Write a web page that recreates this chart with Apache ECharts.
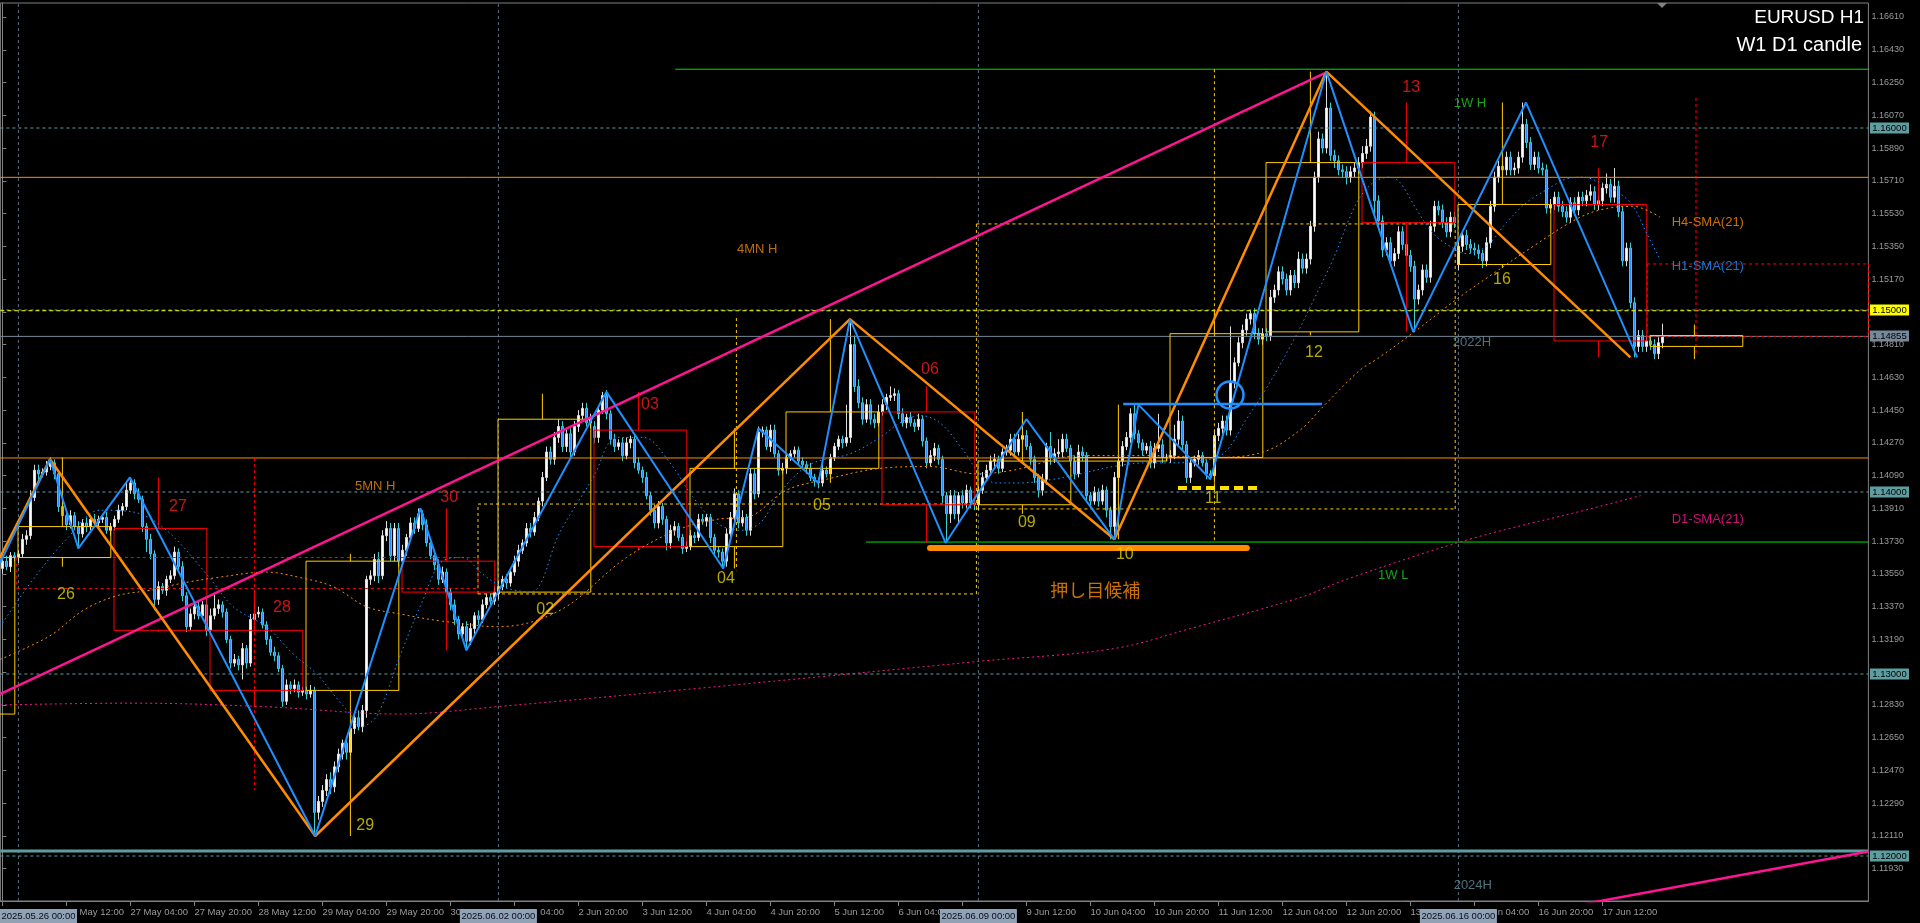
<!DOCTYPE html>
<html><head><meta charset="utf-8">
<script src="https://cdn.jsdelivr.net/npm/echarts/dist/echarts.min.js"></script>
<style>html,body{margin:0;padding:0;background:#000;overflow:hidden}#c{width:1920px;height:923px}</style>
</head><body><div id="c"></div>
<script>
// ---------------- DATA ----------------
const TICK_LABELS = ["23 May 20:00","26 May 12:00","27 May 04:00","27 May 20:00","28 May 12:00","29 May 04:00","29 May 20:00","30 May 12:00","2 Jun 04:00","2 Jun 20:00","3 Jun 12:00","4 Jun 04:00","4 Jun 20:00","5 Jun 12:00","6 Jun 04:00","6 Jun 20:00","9 Jun 12:00","10 Jun 04:00","10 Jun 20:00","11 Jun 12:00","12 Jun 04:00","12 Jun 20:00","13 Jun 12:00","16 Jun 04:00","16 Jun 20:00","17 Jun 12:00"];
const Y_TICKS = [1.11930,1.12110,1.12290,1.12470,1.12650,1.12830,1.13010,1.13190,1.13370,1.13550,1.13730,1.13910,1.14090,1.14270,1.14450,1.14630,1.14810,1.14990,1.15170,1.15350,1.15530,1.15710,1.15890,1.16070,1.16250,1.16430,1.16610];
const SEP_IDX = [4,124,244,364];
const SEP_LABELS = ["2025.05.26 00:00","2025.06.02 00:00","2025.06.09 00:00","2025.06.16 00:00"];

// hourly closes (index 0 = 23 May 20:00)
const CLOSE = [
1.1362,1.1359,1.1365,1.1364,
/*26May*/1.1366,1.1374,1.1376,1.1397,1.1412,1.1410,1.1411,1.1414,1.1416,1.1410,1.1392,1.1387,1.1382,1.1387,1.1381,1.1377,1.1383,1.1381,1.1385,1.1383,1.1385,1.1386,1.1379,1.1381,
/*27May*/1.1385,1.1390,1.1392,1.1401,1.1405,1.1399,1.1396,1.1381,1.1374,1.1366,1.1341,1.1348,1.1346,1.1352,1.1354,1.1367,1.1359,1.1343,1.1326,1.1333,1.1337,1.1332,1.1338,1.1324,
/*28May*/1.1332,1.1336,1.1338,1.1334,1.1319,1.1306,1.1308,1.1305,1.1314,1.1306,1.1330,1.1333,1.1334,1.1327,1.1319,1.1312,1.1310,1.1303,1.1285,1.1294,1.1292,1.1294,1.1290,1.1291,
/*29May*/1.1289,1.1291,1.1224,1.1230,1.1236,1.1242,1.1238,1.1249,1.1256,1.1262,1.1257,1.1270,1.1276,1.1271,1.1280,1.1352,1.1354,1.1363,1.1354,1.1376,1.1380,1.1365,1.1380,1.1362,
/*30May*/1.1368,1.1375,1.1383,1.1380,1.1388,1.1382,1.1372,1.1365,1.1360,1.1352,1.1356,1.1345,1.1338,1.1330,1.1322,1.1326,1.1318,1.1325,1.1332,1.1330,1.1338,1.1342,1.1340,1.1345,
/*02Jun*/1.1348,1.1352,1.1350,1.1356,1.1362,1.1368,1.1372,1.1380,1.1378,1.1386,1.1395,1.1408,1.1422,1.1418,1.1430,1.1436,1.1425,1.1432,1.1422,1.1436,1.1442,1.1446,1.1438,1.1440,
/*03Jun*/1.1430,1.1445,1.1453,1.1443,1.1429,1.1425,1.1427,1.1420,1.1427,1.1429,1.1416,1.1412,1.1408,1.1398,1.1390,1.1383,1.1392,1.1385,1.1372,1.1379,1.1381,1.1375,1.1369,1.1370,
/*04Jun*/1.1376,1.1375,1.1385,1.1384,1.1386,1.1375,1.1368,1.1367,1.1362,1.1377,1.1386,1.1399,1.1383,1.1386,1.1379,1.1410,1.1399,1.1433,1.1434,1.1425,1.1434,1.1421,1.1412,1.1413,
/*05Jun*/1.1419,1.1421,1.1423,1.1417,1.1415,1.1413,1.1408,1.1406,1.1405,1.1412,1.1410,1.1419,1.1425,1.1429,1.1427,1.1430,1.1481,1.1458,1.1449,1.1440,1.1448,1.1440,1.1438,1.1444,
/*06Jun*/1.1448,1.1452,1.1453,1.1454,1.1443,1.1438,1.1441,1.1438,1.1436,1.1440,1.1428,1.1416,1.1420,1.1424,1.1418,1.1398,1.1388,1.1398,1.1388,1.1398,1.1394,1.1401,1.1394,1.1393,
/*09Jun*/1.1401,1.1408,1.1412,1.1417,1.1418,1.1413,1.1422,1.1423,1.1429,1.1422,1.1429,1.1431,1.1425,1.1418,1.1408,1.1401,1.1407,1.1425,1.1419,1.1421,1.1422,1.1429,1.1424,1.1417,
/*10Jun*/1.1410,1.1422,1.1420,1.1398,1.1395,1.1400,1.1395,1.1401,1.1390,1.1381,1.1408,1.1417,1.1425,1.1430,1.1443,1.1432,1.1427,1.1423,1.1425,1.1416,1.1424,1.1426,1.1419,1.1419,
/*11Jun*/1.1420,1.1429,1.1439,1.1426,1.1408,1.1416,1.1418,1.1420,1.1416,1.1410,1.1409,1.1431,1.1435,1.1439,1.1434,1.1460,1.1471,1.1482,1.1489,1.1495,1.1498,1.1487,1.1484,1.1487,
/*12Jun*/1.1486,1.1507,1.1511,1.1521,1.1517,1.1511,1.1519,1.1515,1.1528,1.1523,1.1528,1.1546,1.1573,1.1594,1.1589,1.1611,1.1585,1.1582,1.1577,1.1576,1.1573,1.1576,1.1578,1.1581,
/*13Jun*/1.1586,1.1590,1.1606,1.1560,1.1549,1.1533,1.1537,1.1527,1.1531,1.1543,1.1536,1.1530,1.1524,1.1506,1.1511,1.1522,1.1518,1.1546,1.1557,1.1555,1.1548,1.1543,1.1551,1.1548,
/*16Jun*/1.1535,1.1541,1.1536,1.1534,1.1533,1.1531,1.1527,1.1537,1.1557,1.1573,1.1579,1.1577,1.1584,1.1577,1.1578,1.1584,1.1602,1.1592,1.1580,1.1584,1.1578,1.1577,1.1556,1.1558,
/*17Jun*/1.1562,1.1557,1.1554,1.1551,1.1559,1.1555,1.1562,1.1560,1.1563,1.1565,1.1558,1.1560,1.1567,1.1569,1.1562,1.1568,1.1554,1.1527,1.1534,1.1504,1.1480,1.1486,1.1480,1.1483,
/*18Jun*/1.1481,1.1476,1.1482,1.14855];
// upper / lower wick lengths in pips
const WICK_UP = [
2,3,2,2,
2,3,3,4,3,3,2,3,3,2,2,3,2,3,2,3,2,3,2,3,2,2,3,2,
2,3,2,4,3,2,3,2,2,3,2,3,2,2,3,3,2,3,2,3,2,3,2,3,
4,8,3,2,2,2,3,2,3,2,3,7,3,2,2,2,3,2,2,3,2,3,2,2,
2,3,2,3,3,3,4,3,3,2,4,3,3,4,3,2,3,3,4,3,4,3,3,3,
3,2,3,3,3,2,3,2,2,3,3,2,2,3,2,2,3,3,2,3,3,2,2,3,
3,2,3,2,3,3,2,3,3,3,2,3,3,3,3,4,3,3,3,3,3,3,3,3,
3,2,2,3,2,3,2,3,3,2,2,3,2,3,2,3,3,2,2,3,3,2,2,3,
3,2,3,3,2,2,2,2,2,3,3,3,2,4,2,3,3,3,2,2,3,3,2,3,
2,2,2,2,2,2,3,2,2,3,2,2,2,2,2,18,14,5,4,3,3,3,3,4,
3,2,5,3,2,3,2,3,2,3,2,2,3,3,2,2,2,3,3,2,3,3,2,2,
2,3,3,3,3,2,2,3,3,3,3,9,3,2,2,2,3,2,8,3,7,3,3,2,
3,4,3,2,2,3,2,3,2,2,3,3,3,3,3,5,2,2,2,3,3,17,3,2,
3,8,6,3,2,3,2,3,2,2,2,3,3,3,3,31,3,3,3,3,2,3,3,3,
3,4,3,3,3,3,3,3,4,3,3,3,3,4,3,20,3,3,3,3,3,3,3,3,
4,4,3,3,3,3,3,3,3,3,3,3,3,3,3,3,3,3,3,3,3,3,3,3,
3,3,3,3,3,3,2,3,3,3,3,3,3,3,3,3,12,3,3,3,3,3,3,3,
3,3,3,3,3,3,3,3,3,4,3,3,3,6,3,10,3,3,3,3,3,3,3,3,
3,3,3,7];
const WICK_DN = [
3,2,3,2,
3,2,3,2,2,3,2,2,2,3,3,2,3,2,2,8,2,3,2,2,3,2,2,3,
2,2,3,2,2,3,2,3,7,3,6,3,2,3,2,2,3,3,3,2,3,2,2,3,
2,2,3,3,2,3,2,3,8,3,2,3,2,2,3,2,3,2,3,2,3,2,3,2,
3,2,13,4,3,3,4,3,3,3,4,2,3,2,3,4,3,3,4,2,3,3,3,3,
2,3,2,3,2,3,2,2,3,3,2,3,3,3,3,3,5,2,3,3,2,2,3,2,
3,2,3,2,2,3,2,2,3,2,2,3,2,3,3,3,3,3,3,2,3,2,2,3,
3,3,2,3,3,3,2,3,2,3,3,2,3,2,3,3,3,3,4,3,3,2,3,2,
2,3,2,2,3,3,3,3,4,3,2,3,3,2,3,3,3,2,3,2,3,2,3,2,
3,2,2,2,2,3,2,3,3,2,2,2,2,2,3,2,3,3,3,3,2,3,3,2,
2,3,2,3,3,2,3,2,3,2,3,3,2,3,3,4,16,5,3,5,3,3,3,3,
3,2,2,3,3,3,2,2,3,3,2,2,2,3,3,4,3,3,4,3,2,3,2,3,
3,2,3,3,3,2,3,2,4,7,7,2,3,2,3,3,3,3,2,3,3,2,3,2,
3,2,3,3,3,3,2,3,2,3,2,2,3,3,3,3,3,2,3,3,3,3,3,3,
3,3,3,3,3,3,3,3,3,3,3,3,3,3,3,3,3,4,3,3,4,3,3,3,
3,3,3,8,3,4,3,3,3,3,3,3,3,18,3,3,3,3,3,3,3,3,3,3,
3,3,3,3,3,3,4,3,3,3,3,3,3,3,3,3,3,3,3,3,3,3,3,3,
3,3,3,3,3,3,3,3,3,3,3,3,3,3,3,3,3,3,3,3,6,3,3,3,
3,3,3,3];
const GAP_IDX = [0,124,148,364];
const GAP_OPEN = [1.1358,1.1344,1.1436,1.1525];

// daily candles (W1 D1 candle indicator)
const DAY_START = [-20,4,28,52,76,100,124,148,172,196,220,244,268,292,316,340,364,388,412];
const DAY_OPEN  = [1.1278,1.1364,1.1380,1.1324,1.1291,1.1362,1.1345,1.1434,1.1370,1.1413,1.1444,1.1393,1.1417,1.1419,1.1488,1.1581,1.1525,1.1558,1.1480];
const DAY_CLOSE = [1.1364,1.1381,1.1324,1.1291,1.1362,1.1345,1.1440,1.1370,1.1413,1.1444,1.1393,1.1417,1.1419,1.1487,1.1581,1.1548,1.1558,1.1483,1.1486];
const DAY_HIGH  = [1.1370,1.1419,1.1408,1.1345,1.1366,1.1391,1.1454,1.1455,1.1435,1.1495,1.1458,1.1444,1.1448,1.1500,1.1631,1.1614,1.1614,1.1578,1.1492];
const DAY_LOW   = [1.1270,1.1359,1.1323,1.1282,1.1211,1.1313,1.1345,1.1368,1.1358,1.1405,1.1372,1.1388,1.1374,1.1405,1.1486,1.1488,1.1523,1.1474,1.1473];
// weekly candles (dashed)
const WEEK_X0 = [3.6,118.9,243.5,411.2];
const WEEK_X1 = [118.9,243.5,363.2,466.5];
const WEEK_MID = [63,183.5,303,423.4];
const WEEK_OPEN = [1.1364,1.1344,1.13907,1.15253];
const WEEK_CLOSE = [1.1347,1.13934,1.15473,1.14855];
const WEEK_HIGH = [1.14187,1.14956,1.16323,1.16165];
const WEEK_LOW = [1.12363,1.1357,1.13725,1.14753];

// moving averages: [bar index, price]
const SMA_H1 = [[-0.6,1.1326],[7.7,1.1352],[16,1.1374],[24.4,1.1390],[32.7,1.1389],[41,1.1379],[51,1.1355],[57.7,1.1337],[66,1.1326],[72.7,1.1311],[78.6,1.1300],[82.7,1.1289],[86.9,1.1278],[89.4,1.1271],[93.6,1.1277],[99.4,1.1310],[105,1.1340],[110,1.1362],[115,1.1364],[120,1.1355],[125,1.1348],[132,1.1345],[139.4,1.1378],[147.7,1.1408],[153.6,1.1430],[160.2,1.1430],[166.9,1.1416],[172.7,1.1397],[178.6,1.1383],[184.4,1.1379],[189.4,1.1383],[193.6,1.1397],[197.7,1.1408],[202.7,1.1416],[211.9,1.1421],[219.4,1.1430],[224.4,1.1438],[229.4,1.1442],[234.4,1.1438],[240.2,1.1423],[244.4,1.1410],[248.6,1.1405],[254.4,1.1405],[262.7,1.1407],[269.4,1.1410],[277.7,1.1414],[286,1.1416],[291.9,1.1416],[298.6,1.1417],[305.2,1.1421],[311,1.1440],[316,1.1457],[322.7,1.1483],[327.7,1.1505],[332.7,1.1528],[338.6,1.1559],[342.7,1.1570],[346.9,1.1573],[349.4,1.1570],[353.6,1.1555],[357.7,1.1542],[361.9,1.1535],[366,1.1531],[371,1.1535],[376,1.1548],[381,1.1559],[386,1.1566],[391,1.1572],[395.2,1.1573],[399.4,1.1570],[404.4,1.1564],[407.7,1.1557],[411.1,1.1542],[414.4,1.1528]];
const SMA_H4 = [[-0.6,1.1308],[11.9,1.1321],[20.2,1.1335],[28.6,1.1343],[36.9,1.1346],[45.2,1.1350],[53.6,1.1353],[66,1.1356],[74.4,1.1353],[82.7,1.1348],[91,1.1337],[99.4,1.1333],[110,1.1329],[124,1.1326],[139.4,1.1335],[156,1.1364],[168.6,1.1379],[178.6,1.1385],[186,1.1386],[196,1.1401],[206,1.1407],[219.4,1.1413],[231.9,1.1414],[243.6,1.1410],[252.7,1.1412],[269.4,1.1420],[286,1.1420],[302.7,1.1419],[315.2,1.1422],[324.4,1.1434],[330.2,1.1447],[339.4,1.1467],[343.6,1.1473],[353.6,1.1489],[363.6,1.1506],[372.7,1.1520],[382.7,1.1535],[392.7,1.1549],[399.4,1.1555],[407.7,1.1557],[411.9,1.1554],[414.4,1.1551]];
const SMA_D1 = [[-0.6,1.1283],[32.7,1.1284],[66,1.1282],[99.4,1.1278],[123.4,1.1282],[183,1.1294],[244.4,1.1307],[278,1.1314],[297,1.1325],[324.4,1.1342],[336,1.1352],[366.7,1.1374],[397.4,1.1391],[409.6,1.1398]];

// zigzags and trend lines: [bar index, price]
const ZZ_BLUE = [[-0.6,1.1361],[11.9,1.1418],[19,1.1369],[31.9,1.1408],[78.2,1.1211],[104.5,1.1391],[116,1.1313],[151,1.1455],[180.2,1.1358],[189,1.1435],[204,1.1405],[211.9,1.1495],[235.8,1.1372],[256,1.1440],[278,1.1374],[284,1.1448],[302,1.1407],[331,1.1631],[352.7,1.1488],[380.9,1.1614],[408.7,1.1474]];
const ZZ_ORANGE = [[-0.6,1.1364],[11.9,1.1418],[78.2,1.1211],[211.9,1.1495],[278,1.1374],[331,1.1631],[407,1.1474]];
const TREND_1 = [[-0.6,1.12890],[330.6,1.16302]];
const TREND_2 = [[380,1.11674],[466.5,1.12025]];

// horizontal levels
const ROUND_LEVELS = [1.16,1.15,1.14,1.13,1.12];
const ORANGE_LEVELS = [1.15729,1.14187];
const GREEN_LEVELS = [1.16323,1.13725];
const GREEN_FROM = [168.2,215.9];
const BID = 1.14855;
const LEVEL_2024 = 1.12027;
const BLUE_LEVEL = [280.2,329.9,1.14484];
const SUPPORT_BAR = [231.9,311.1,1.13692];
const YELLOW_BAR = [293.9,313.9,1.14022];
const CIRCLE_AT = [306.9,1.14533];
const MARKERS = [1.16,1.15,1.14855,1.14,1.13,1.12];

// text annotations: [text, bar index, price]
const DAY_LABELS_BULL = [["26",15.9,1.13434],["29",90.7,1.12165],["02",135.7,1.13352],["04",180.9,1.13522],["05",204.9,1.13923],["09",256.1,1.13830],["10",280.6,1.13654],["11",302.7,1.13962],["12",327.9,1.14764],["16",374.9,1.15165]];
const DAY_LABELS_BEAR = [["27",43.9,1.13918],["28",69.9,1.13363],["30",111.7,1.13967],["03",161.9,1.14478],["06",231.9,1.14670],["13",352.2,1.16220],["17",399.2,1.15918]];
const NOTES_ORANGE = [["5MN H",93.2,1.14028],["4MN H",188.7,1.15335]];
const NOTES_GREEN = [["1W H",366.9,1.16137],["1W L",347.7,1.13539]];
const NOTES_GRAY = [["2022H",367.4,1.14824],["2024H",367.6,1.11841]];
const SMA_LABELS = [["H4-SMA(21)",417.2,1.15484],["H1-SMA(21)",417.2,1.15242],["D1-SMA(21)",417.2,1.13852]];
const NOTE_JP = ["押し目候補",273.2,1.13462];

// ---------------- CHART ----------------
const N_SLOTS = 467, XL = -0.5, XR = 466.5;
const Y_MAX = 1.166869, Y_MIN = 1.117528;
const FONT = 'Liberation Sans, Arial, sans-serif';
const YEL = '#ffcc00', RED = '#ff0000';
const MARKER_BG = ['#5f9ea0', '#ffff00', '#778899', '#5f9ea0', '#5f9ea0', '#5f9ea0'];

const cats = []; for (let i = 0; i < N_SLOTS; i++) cats.push(String(i));
const candles = [];
let prev = GAP_OPEN[0];
for (let i = 0; i < CLOSE.length; i++) {
  const g = GAP_IDX.indexOf(i);
  const o = g >= 0 ? GAP_OPEN[g] : prev;
  const c = CLOSE[i];
  candles.push([o, c, Math.min(o, c) - WICK_DN[i] * 0.0001, Math.max(o, c) + WICK_UP[i] * 0.0001]);
  prev = c;
}

function segSeries(data, color, width, dash, z, cap) {
  return {
    type: 'custom', xAxisIndex: 1, yAxisIndex: 0, silent: true, z: z || 3, clip: true, animation: false,
    encode: { x: [0, 2], y: [1, 3] }, data: data,
    renderItem: function (p, api) {
      const a = api.coord([api.value(0), api.value(1)]), b = api.coord([api.value(2), api.value(3)]);
      return { type: 'line', shape: { x1: a[0], y1: a[1], x2: b[0], y2: b[1] },
        style: { stroke: color, lineWidth: width, lineDash: dash || null, lineCap: cap || 'butt' } };
    }
  };
}
function polySeries(data, color, width, z) {
  return { type: 'line', xAxisIndex: 1, yAxisIndex: 0, data: data, showSymbol: false, symbol: 'none', silent: true,
    z: z || 4, lineStyle: { color: color, width: width }, animation: false };
}
function smaSeries(data, color, dash) {
  return { type: 'line', xAxisIndex: 1, yAxisIndex: 0, data: data, showSymbol: false, symbol: 'none', silent: true,
    smooth: 0.35, z: 3, lineStyle: { color: color, width: 1, type: dash }, animation: false };
}
function textSeries(items, color, size, pos, family) {
  return { type: 'scatter', xAxisIndex: 1, yAxisIndex: 0, symbolSize: 1, silent: true, z: 7, animation: false,
    itemStyle: { color: 'rgba(0,0,0,0)' },
    data: items.map(d => ({ value: [d[1], d[2]], name: d[0] })),
    label: { show: true, position: pos || 'inside', distance: 0, formatter: '{b}', color: color, fontSize: size,
      fontFamily: family || FONT } };
}

// horizontal / vertical segments
const segRound = ROUND_LEVELS.map(p => [XL, p, XR, p]);
const segYellow15 = [[XL, 1.14996, XR, 1.14996]];
const segOrange = ORANGE_LEVELS.map(p => [XL, p, XR, p]);
const segGreen = GREEN_LEVELS.map((p, i) => [GREEN_FROM[i], p, XR, p]);
const segSep = SEP_IDX.map(i => [i, Y_MIN, i, Y_MAX]);
const segWeekRed = [], segWeekYel = [];
for (let i = 0; i < WEEK_X0.length; i++) {
  const t = WEEK_CLOSE[i] >= WEEK_OPEN[i] ? segWeekYel : segWeekRed;
  const a = WEEK_X0[i], b = WEEK_X1[i], o = WEEK_OPEN[i], c = WEEK_CLOSE[i];
  t.push([a, o, b, o], [a, c, b, c], [a, o, a, c], [b, o, b, c], [WEEK_MID[i], WEEK_HIGH[i], WEEK_MID[i], WEEK_LOW[i]]);
}
const dayData = DAY_START.map((s, i) => [s, DAY_OPEN[i], DAY_CLOSE[i], DAY_HIGH[i], DAY_LOW[i]]);

const series = [
  {
    type: 'candlestick', xAxisIndex: 0, yAxisIndex: 0, data: candles, barWidth: 3, z: 2, silent: true, animation: false,
    itemStyle: { color: '#ffffff', color0: '#1e90ff', borderColor: '#dcdcdc', borderColor0: '#38cfd0', borderWidth: 1 }
  },
  segSeries(segSep, '#5a6d82', 1, [3, 3], 1),
  segSeries(segRound, '#5f9ea0', 1, [3, 3], 3),
  segSeries(segYellow15, '#ffff00', 1, [4, 3], 3),
  segSeries([[XL, LEVEL_2024, XR, LEVEL_2024]], '#5f9ea0', 3, null, 3),
  segSeries([[XL, BID, XR, BID]], '#778899', 1, null, 3),
  segSeries(segOrange, '#ff8c00', 1, null, 3),
  segSeries(segGreen, '#00e000', 1, null, 3),
  segSeries(segWeekRed, RED, 1, [3, 3], 3),
  segSeries(segWeekYel, YEL, 1, [3, 3], 3),
  {
    type: 'custom', xAxisIndex: 1, yAxisIndex: 0, silent: true, z: 3, clip: true, animation: false,
    encode: { x: 0, y: [1, 2, 3, 4] }, data: dayData,
    renderItem: function (p, api) {
      const s = api.value(0), o = api.value(1), c = api.value(2), h = api.value(3), l = api.value(4);
      const col = c >= o ? YEL : RED;
      const p0 = api.coord([s - 0.1, Math.max(o, c)]), p1 = api.coord([s + 23.1, Math.min(o, c)]);
      const wx = api.coord([s + 11, h])[0], yh = api.coord([s, h])[1], yl = api.coord([s, l])[1];
      return { type: 'group', children: [
        { type: 'rect', shape: { x: p0[0], y: p0[1], width: p1[0] - p0[0], height: Math.max(1, p1[1] - p0[1]) },
          style: { fill: 'none', stroke: col, lineWidth: 1 } },
        { type: 'line', shape: { x1: wx, y1: yh, x2: wx, y2: p0[1] }, style: { stroke: col, lineWidth: 1 } },
        { type: 'line', shape: { x1: wx, y1: p1[1], x2: wx, y2: yl }, style: { stroke: col, lineWidth: 1 } }
      ] };
    }
  },
  smaSeries(SMA_D1, '#ff1493', [2, 3]),
  smaSeries(SMA_H4, '#ff8c00', [2, 3]),
  smaSeries(SMA_H1, '#1e90ff', [1.5, 3]),
  polySeries(TREND_1, '#ff1493', 2.5, 4),
  polySeries(TREND_2, '#ff1493', 2.5, 4),
  polySeries(ZZ_ORANGE, '#ff8c00', 2.5, 4),
  polySeries(ZZ_BLUE, '#1e90ff', 2, 5),
  segSeries([[BLUE_LEVEL[0], BLUE_LEVEL[2], BLUE_LEVEL[1], BLUE_LEVEL[2]]], '#1e90ff', 2.5, null, 5),
  segSeries([[SUPPORT_BAR[0], SUPPORT_BAR[2], SUPPORT_BAR[1], SUPPORT_BAR[2]]], '#ff8c00', 6, null, 5, 'round'),
  segSeries([[YELLOW_BAR[0], YELLOW_BAR[2], YELLOW_BAR[1], YELLOW_BAR[2]]], '#ffe000', 4, [9, 5], 5),
  {
    type: 'custom', xAxisIndex: 1, yAxisIndex: 0, silent: true, z: 5, clip: true, animation: false,
    encode: { x: 0, y: 1 }, data: [CIRCLE_AT],
    renderItem: function (p, api) {
      const c = api.coord([api.value(0), api.value(1)]);
      return { type: 'circle', shape: { cx: c[0], cy: c[1], r: 13.5 }, style: { fill: 'none', stroke: '#1e90ff', lineWidth: 2.5 } };
    }
  },
  // price-axis markers
  {
    type: 'custom', xAxisIndex: 1, yAxisIndex: 0, silent: true, z: 9, clip: false, animation: false,
    encode: { y: 0 }, data: MARKERS.map(v => [v]),
    renderItem: function (p, api) {
      const v = api.value(0), pt = api.coord([XR, v]);
      const x = pt[0] + 1.6, y = Math.round(pt[1]);
      return { type: 'group', children: [
        { type: 'rect', shape: { x: x, y: y - 5.5, width: 39, height: 11 }, style: { fill: MARKER_BG[p.dataIndex] } },
        { type: 'text', style: { text: v.toFixed(5), x: x + 19.5, y: y + 0.5, fill: '#000', align: 'center', verticalAlign: 'middle',
          font: '9.5px Liberation Sans, Arial, sans-serif' } }
      ] };
    }
  },
  {
    type: 'custom', xAxisIndex: 1, yAxisIndex: 0, silent: true, z: 8, clip: false, animation: false,
    encode: { x: 0 }, data: SEP_IDX.map(i => [i]),
    renderItem: function (p, api) {
      const pt = api.coord([api.value(0), Y_MIN]);
      const w = 77, left = Math.max(0, pt[0] - w / 2);
      return { type: 'group', children: [
        { type: 'rect', shape: { x: left, y: pt[1] + 8, width: w, height: 15 }, style: { fill: '#8fa2b6' } },
        { type: 'text', style: { text: SEP_LABELS[p.dataIndex], x: left + w / 2, y: pt[1] + 15.5, fill: '#0b0b18',
          font: '9.5px Liberation Sans, Arial, sans-serif', align: 'center', verticalAlign: 'middle' } }
      ] };
    }
  },
  textSeries(DAY_LABELS_BULL, '#e4d400', 16),
  textSeries(DAY_LABELS_BEAR, '#ff1a1a', 16),
  textSeries(NOTES_ORANGE, '#ee8a10', 13),
  textSeries(NOTES_GREEN, '#22c822', 13),
  textSeries(NOTES_GRAY, '#5f8f9f', 13),
  textSeries([SMA_LABELS[0]], '#ff8c00', 13, 'right'),
  textSeries([SMA_LABELS[1]], '#1e90ff', 13, 'right'),
  textSeries([SMA_LABELS[2]], '#ff1493', 13, 'right'),
  textSeries([NOTE_JP], '#ff8c00', 18, 'inside', 'Noto Sans CJK JP, sans-serif')
];

const chart = echarts.init(document.getElementById('c'), null, { renderer: 'canvas', width: 1920, height: 923 });
chart.setOption({
  backgroundColor: '#000000',
  animation: false,
  grid: { left: 0.4, right: 51.6, top: 3, bottom: 22, show: true, borderColor: '#808080', borderWidth: 1,
    backgroundColor: '#000', containLabel: false, outerBoundsMode: 'none' },
  xAxis: [
    { type: 'category', data: cats, boundaryGap: true, gridIndex: 0, position: 'bottom',
      axisLine: { show: true, lineStyle: { color: '#808080' } },
      axisTick: { show: true, alignWithLabel: true, length: 5, lineStyle: { color: '#808080' },
        interval: i => i % 16 === 0 && i / 16 < TICK_LABELS.length },
      axisLabel: { show: true, align: 'left', margin: 6, color: '#9a9a9a', fontSize: 9.5, fontFamily: FONT,
        interval: i => i % 16 === 0 && i / 16 < TICK_LABELS.length,
        formatter: (v, i) => TICK_LABELS[i / 16] || '' },
      splitLine: { show: false } },
    { type: 'value', min: XL, max: XR, show: false, gridIndex: 0 }
  ],
  yAxis: [{ type: 'value', position: 'right', min: Y_MIN, max: Y_MAX, gridIndex: 0,
    axisLine: { show: true, lineStyle: { color: '#808080' } },
    axisTick: { show: true, length: 4, lineStyle: { color: '#808080' }, customValues: Y_TICKS },
    axisLabel: { show: true, margin: 3, color: '#9a9a9a', fontSize: 9, fontFamily: FONT,
      customValues: Y_TICKS, formatter: v => Number(v).toFixed(5) },
    splitLine: { show: false } }],
  graphic: [
    { type: 'text', right: 56, top: 8, style: { text: 'EURUSD H1', fill: '#ffffff', font: '19px Liberation Sans, Arial, sans-serif' } },
    { type: 'text', right: 58, top: 35, style: { text: 'W1 D1 candle', fill: '#ffffff', font: '20px Liberation Sans, Arial, sans-serif' } },
    { type: 'polygon', shape: { points: [[1657, 3], [1667, 3], [1662, 8]] }, style: { fill: '#808080' } }
  ],
  series: series
});
</script></body></html>
